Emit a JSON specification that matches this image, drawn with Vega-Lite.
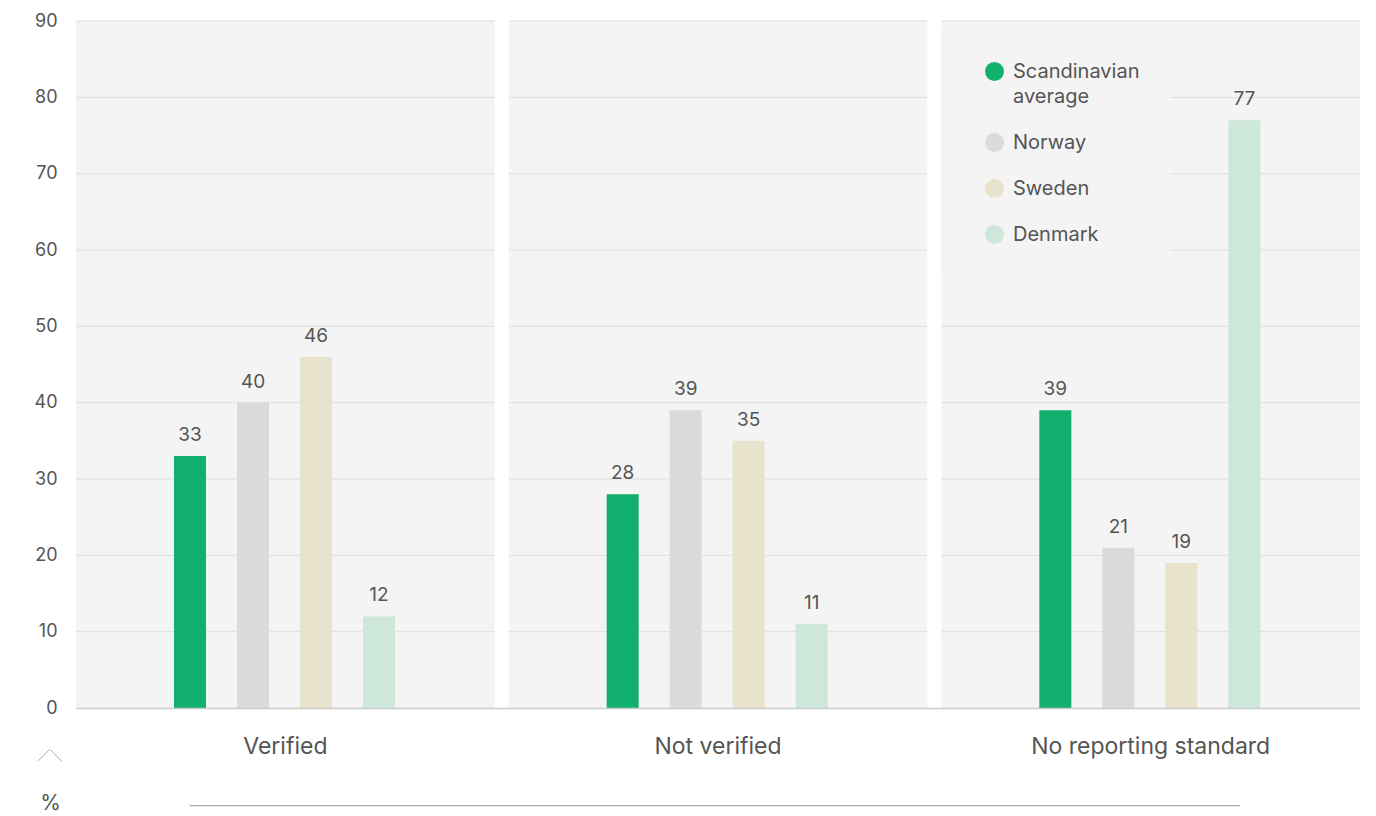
{
  "$schema": "https://vega.github.io/schema/vega-lite/v6.json",
  "width": 1284,
  "height": 687,
  "autosize": {"type": "none"},
  "padding": {"left": 76, "top": 21, "right": 16, "bottom": 108},
  "background": "#ffffff",
  "config": {
    "view": {"stroke": null},
    "font": "Inter",
    "style": {"guide-label": {"lineHeight": 25}}
  },
  "datasets": {
    "bars": [
      {"cat": "Verified", "country": "Scandinavian average", "value": 33},
      {"cat": "Verified", "country": "Norway", "value": 40},
      {"cat": "Verified", "country": "Sweden", "value": 46},
      {"cat": "Verified", "country": "Denmark", "value": 12},
      {"cat": "Not verified", "country": "Scandinavian average", "value": 28},
      {"cat": "Not verified", "country": "Norway", "value": 39},
      {"cat": "Not verified", "country": "Sweden", "value": 35},
      {"cat": "Not verified", "country": "Denmark", "value": 11},
      {"cat": "No reporting standard", "country": "Scandinavian average", "value": 39},
      {"cat": "No reporting standard", "country": "Norway", "value": 21},
      {"cat": "No reporting standard", "country": "Sweden", "value": 19},
      {"cat": "No reporting standard", "country": "Denmark", "value": 77}
    ],
    "panels": [
      {"cat": "Verified"},
      {"cat": "Not verified"},
      {"cat": "No reporting standard"}
    ],
    "grid": [
      {"cat": "Verified", "g": 10}, {"cat": "Verified", "g": 20}, {"cat": "Verified", "g": 30},
      {"cat": "Verified", "g": 40}, {"cat": "Verified", "g": 50}, {"cat": "Verified", "g": 60},
      {"cat": "Verified", "g": 70}, {"cat": "Verified", "g": 80}, {"cat": "Verified", "g": 90},
      {"cat": "Not verified", "g": 10}, {"cat": "Not verified", "g": 20}, {"cat": "Not verified", "g": 30},
      {"cat": "Not verified", "g": 40}, {"cat": "Not verified", "g": 50}, {"cat": "Not verified", "g": 60},
      {"cat": "Not verified", "g": 70}, {"cat": "Not verified", "g": 80}, {"cat": "Not verified", "g": 90},
      {"cat": "No reporting standard", "g": 10}, {"cat": "No reporting standard", "g": 20}, {"cat": "No reporting standard", "g": 30},
      {"cat": "No reporting standard", "g": 40}, {"cat": "No reporting standard", "g": 50}, {"cat": "No reporting standard", "g": 60},
      {"cat": "No reporting standard", "g": 70}, {"cat": "No reporting standard", "g": 80}, {"cat": "No reporting standard", "g": 90}
    ]
  },
  "layer": [
    {
      "data": {"name": "panels"},
      "mark": {"type": "rect", "color": "#f4f4f4"},
      "encoding": {
        "x": {"field": "cat", "type": "nominal"},
        "y": {"datum": 0, "type": "quantitative"},
        "y2": {"datum": 90}
      }
    },
    {
      "data": {"name": "grid"},
      "mark": {"type": "rule", "color": "#dedede", "strokeWidth": 1},
      "encoding": {
        "x": {"field": "cat", "type": "nominal", "bandPosition": 0},
        "x2": {"field": "cat", "bandPosition": 1},
        "y": {"field": "g", "type": "quantitative"}
      }
    },
    {
      "data": {"name": "bars"},
      "mark": {"type": "bar"},
      "encoding": {
        "x": {
          "field": "cat",
          "type": "nominal",
          "sort": ["Verified", "Not verified", "No reporting standard"],
          "scale": {"domain": ["Verified", "Not verified", "No reporting standard"], "paddingInner": 0.0324, "paddingOuter": 0},
          "axis": {
            "title": null,
            "labelAngle": 0,
            "labelAlign": "center",
            "bandPosition": 0.5,
            "labelFontSize": 23,
            "labelColor": "#555555",
            "labelPadding": 38,
            "labelLimit": 0,
            "ticks": false,
            "domainColor": "#cccccc",
            "domainWidth": 1.5,
            "grid": false
          }
        },
        "xOffset": {
          "field": "country",
          "type": "nominal",
          "sort": ["Scandinavian average", "Norway", "Sweden", "Denmark"],
          "scale": {"domain": ["Scandinavian average", "Norway", "Sweden", "Denmark"], "range": [98, 319], "paddingInner": 0.492, "paddingOuter": 0}
        },
        "y": {
          "field": "value",
          "type": "quantitative",
          "scale": {"domain": [0, 90], "nice": false},
          "axis": {
            "title": "%",
            "titleAngle": 0,
            "titleX": -26,
            "titleY": 782,
            "titleAlign": "center",
            "titleBaseline": "middle",
            "titleFontSize": 21,
            "titleFontWeight": "normal",
            "titleColor": "#555555",
            "values": [0, 10, 20, 30, 40, 50, 60, 70, 80, 90],
            "labelFontSize": 18,
            "labelColor": "#555555",
            "labelPadding": 19,
            "ticks": false,
            "domain": false,
            "grid": false
          }
        },
        "color": {
          "field": "country",
          "type": "nominal",
          "scale": {
            "domain": ["Scandinavian average", "Norway", "Sweden", "Denmark"],
            "range": ["#12b06e", "#dadbdd", "#e8e3cc", "#cde8da"]
          },
          "legend": {
            "title": null,
            "orient": "none",
            "legendX": 865,
            "legendY": 10,
            "fillColor": "#f4f4f4",
            "padding": 30,
            "symbolOffset": 13,
            "symbolType": "circle",
            "symbolSize": 360,
            "labelFontSize": 20,
            "labelColor": "#555555",
            "labelOffset": 8,
            "rowPadding": 25,
            "labelExpr": "datum.label == 'Scandinavian average' ? ['Scandinavian', 'average'] : datum.label"
          }
        }
      }
    },
    {
      "data": {"name": "bars"},
      "mark": {"type": "text", "baseline": "bottom", "dy": -11, "fontSize": 19, "color": "#555555"},
      "encoding": {
        "x": {"field": "cat", "type": "nominal"},
        "xOffset": {"field": "country", "type": "nominal"},
        "y": {"field": "value", "type": "quantitative"},
        "text": {"field": "value", "type": "quantitative"}
      }
    },
    {
      "data": {"values": [{}]},
      "mark": {"type": "rule", "color": "#aaaaaa", "strokeWidth": 1.2},
      "encoding": {
        "x": {"datum": "Verified", "bandPosition": 0.272},
        "x2": {"datum": "No reporting standard", "bandPosition": 0.714},
        "y": {"datum": -12.8}
      }
    },
    {
      "data": {"values": [{}]},
      "mark": {"type": "point", "shape": "M-1,0.5L0,-0.5L1,0.5", "filled": false, "stroke": "#aaaaaa", "strokeWidth": 1, "size": 576, "opacity": 1},
      "encoding": {
        "x": {"datum": "Verified", "bandPosition": -0.0625},
        "y": {"datum": -6.2}
      }
    }
  ]
}
